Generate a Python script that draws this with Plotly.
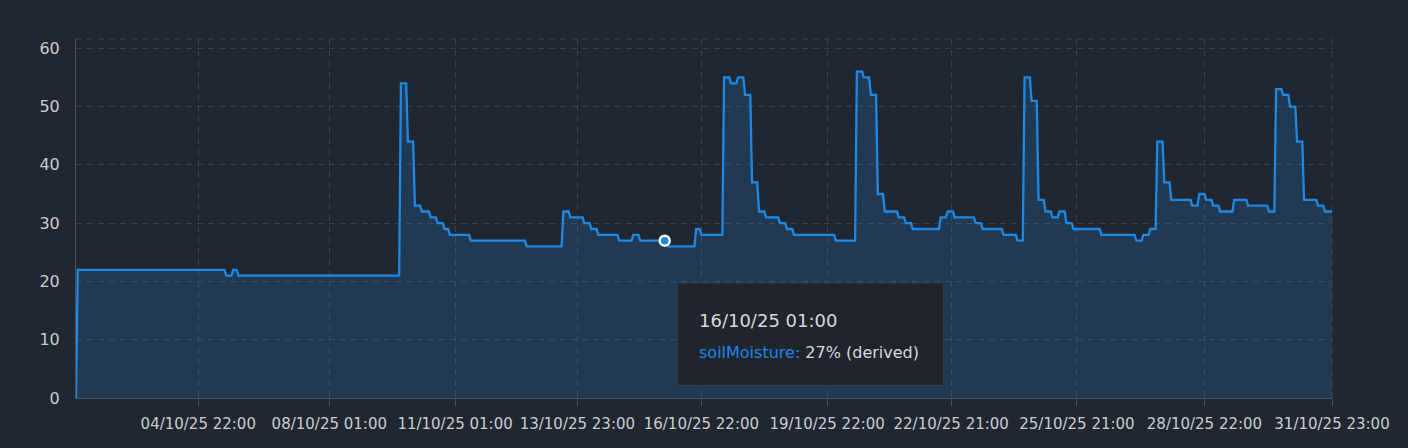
import numpy as np
import pandas as pd
import plotly.graph_objects as go

# ---------------- data ----------------
START = "2025-10-02 00:00"          # first hourly sample
N_HOURS = 720                       # hourly samples up to 31/10/25 23:00

# soilMoisture (%) as runs: hour offset where a level starts, and that level
run_start_hour = [0, 1, 86, 90, 93, 186, 190, 194, 198, 203, 207, 211, 214, 226, 258,
                  279, 283, 291, 295, 299, 311, 319, 323, 339, 355, 358, 371, 375, 379,
                  383, 387, 391, 395, 403, 407, 411, 435, 447, 451, 455, 459, 463, 471,
                  475, 479, 495, 499, 503, 515, 519, 531, 539, 543, 547, 551, 555, 559,
                  563, 567, 571, 587, 607, 611, 615, 619, 623, 627, 639, 643, 647, 651,
                  655, 663, 671, 683, 687, 691, 695, 699, 703, 711, 715]
run_value = [0, 22, 21, 22, 21, 54, 44, 33, 32, 31, 30, 29, 28, 27, 26,
             32, 31, 30, 29, 28, 27, 28, 27, 26, 29, 28, 55, 54, 55,
             52, 37, 32, 31, 30, 29, 28, 27, 56, 55, 52, 35, 32, 31,
             30, 29, 31, 32, 31, 30, 29, 28, 27, 55, 51, 34, 32, 31,
             32, 30, 29, 28, 27, 28, 29, 44, 37, 34, 33, 35, 34, 33,
             32, 34, 33, 32, 53, 52, 50, 44, 34, 33, 32]

tick_labels = ["04/10/25 22:00", "08/10/25 01:00", "11/10/25 01:00", "13/10/25 23:00",
               "16/10/25 22:00", "19/10/25 22:00", "22/10/25 21:00", "25/10/25 21:00",
               "28/10/25 22:00", "31/10/25 23:00"]
y_ticks = [0, 10, 20, 30, 40, 50, 60]

SERIES_NAME = "soilMoisture"
HOVER_TIME = "16/10/25 01:00"
HOVER_SUFFIX = "% (derived)"

# ---------------- build series ----------------
times = pd.date_range(START, periods=N_HOURS, freq="h")
lengths = np.diff(run_start_hour + [N_HOURS])
values = np.repeat(run_value, lengths)

FMT = "%d/%m/%y %H:%M"
tick_vals = [pd.to_datetime(t, format=FMT) for t in tick_labels]
hover_t = pd.to_datetime(HOVER_TIME, format=FMT)
hover_v = int(values[times.get_loc(hover_t)])

# ---------------- style ----------------
BG = "#212730"
LINE = "#1e88e5"
GRID = "#3a424d"
AXIS = "#4a525d"
TXT = "#c8cdd3"
FONT = "DejaVu Sans"

fig = go.Figure()
fig.add_trace(go.Scatter(
    x=times, y=values, mode="lines", name=SERIES_NAME,
    line=dict(color=LINE, width=2.3),
    fill="tozeroy", fillcolor="rgba(30,136,229,0.2)",
    hoverinfo="skip", showlegend=False,
))
fig.add_trace(go.Scatter(
    x=[hover_t], y=[hover_v], mode="markers",
    marker=dict(size=10, color=LINE, line=dict(color="white", width=2.5)),
    hoverinfo="skip", showlegend=False,
))

fig.update_layout(
    width=1408, height=448,
    paper_bgcolor=BG, plot_bgcolor=BG,
    margin=dict(l=76, r=76, t=39, b=50),
    font=dict(family=FONT, color=TXT, size=16),
    showlegend=False,
    hovermode=False,
)
fig.update_xaxes(
    type="date",
    range=[times[0], times[-1]],
    tickmode="array", tickvals=tick_vals, ticktext=tick_labels,
    tickangle=0, ticklabeloverflow="allow", ticklabelstandoff=5,
    tickfont=dict(family=FONT, size=15, color=TXT),
    ticks="outside", ticklen=7, tickcolor=AXIS, tickwidth=1,
    showgrid=True, gridcolor=GRID, griddash="6px,5px", gridwidth=1,
    showline=True, linecolor=AXIS, linewidth=1,
    zeroline=False, fixedrange=True,
)
fig.update_yaxes(
    range=[0, 61.6],
    tickmode="array", tickvals=y_ticks,
    tickfont=dict(family=FONT, size=16, color=TXT),
    ticks="", ticklabelstandoff=12,
    showgrid=True, gridcolor=GRID, griddash="6px,5px", gridwidth=1,
    showline=True, linecolor=AXIS, linewidth=1,
    zeroline=False, fixedrange=True,
)

# dashed top border and right border of the grid
fig.add_shape(type="line", xref="paper", yref="paper", x0=0, x1=1, y0=1, y1=1,
              line=dict(color=GRID, width=1, dash="6px,5px"), layer="below")
fig.add_shape(type="line", xref="paper", yref="paper", x0=1, x1=1, y0=0, y1=1,
              line=dict(color=GRID, width=1, dash="6px,5px"), layer="below")

# static tooltip box
fig.add_shape(type="rect", xref="paper", yref="paper",
              x0=0.4787, x1=0.6905, y0=0.0345, y1=0.3203,
              fillcolor="#20252d", line=dict(color="#353c46", width=1), layer="above")
fig.add_annotation(xref="paper", yref="paper", x=0.4945, y=0.215,
                   xanchor="left", yanchor="middle", showarrow=False,
                   text=HOVER_TIME, font=dict(family=FONT, size=18, color="#d5d9de"))
fig.add_annotation(xref="paper", yref="paper", x=0.4945, y=0.127,
                   xanchor="left", yanchor="middle", showarrow=False,
                   text=f"<span style='color:{LINE}'>{SERIES_NAME}:</span> {hover_v}{HOVER_SUFFIX}",
                   font=dict(family=FONT, size=16, color="#d5d9de"))

fig.write_html(
    "out.html",
    config={"displayModeBar": False},
    post_script=f"document.body.style.margin='0';document.body.style.background='{BG}';",
)
